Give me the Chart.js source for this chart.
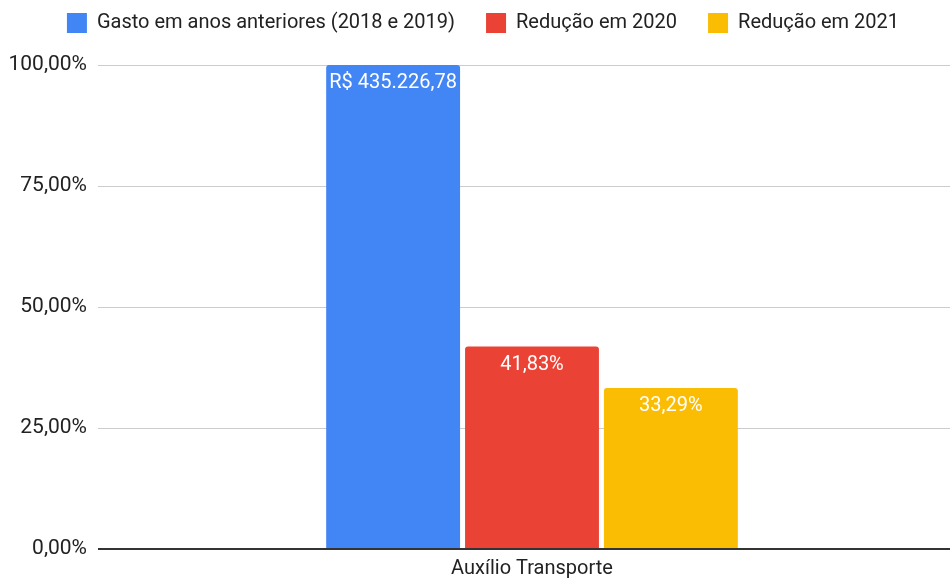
<!DOCTYPE html>
<html>
<head>
<meta charset="utf-8">
<script src="https://cdn.jsdelivr.net/npm/chart.js@4/dist/chart.umd.min.js"></script>
<style>
  body { margin: 0; background: #fff; overflow: hidden; }
  #frame { width: 950px; height: 579px; overflow: hidden; }
  #wrap { width: 966px; height: 579px; }
</style>
</head>
<body>
<div id="frame"><div id="wrap"><canvas id="chart"></canvas></div></div>
<script>
const categories = ['Auxílio Transporte'];
const seriesNames = ['Gasto em anos anteriores (2018 e 2019)', 'Redução em 2020', 'Redução em 2021'];
const seriesValues = [[100], [41.83], [33.29]];
const seriesLabels = [['R$ 435.226,78'], ['41,83%'], ['33,29%']];
const seriesColors = ['#4285f4', '#ea4335', '#fbbc04'];
const yTicks = [0, 25, 50, 75, 100];

const fmtPct = v => v.toFixed(2).replace('.', ',') + '%';

// white value labels just inside the top of each bar
const barLabels = {
    id: 'barLabels',
    afterDatasetsDraw(chart) {
        const ctx = chart.ctx;
        ctx.save();
        ctx.fillStyle = '#ffffff';
        ctx.font = '20px Roboto';
        ctx.textAlign = 'center';
        ctx.textBaseline = 'middle';
        chart.data.datasets.forEach((ds, i) => {
            chart.getDatasetMeta(i).data.forEach((bar, j) => {
                ctx.fillText(seriesLabels[i][j], bar.x, bar.y + 18);
            });
        });
        ctx.restore();
    }
};

// fixed legend block height so the plot starts where the reference does
const legendHeight = {
    id: 'legendHeight',
    beforeInit(chart) {
        const fit = chart.legend.fit;
        chart.legend.fit = function () {
            fit.bind(chart.legend)();
            this.height = 83;
        };
    }
};

const datasets = seriesNames.map((name, i) => ({
    label: name,
    data: seriesValues[i],
    backgroundColor: seriesColors[i],
    borderRadius: 3,
    borderSkipped: 'bottom',
    barPercentage: 0.964,
    categoryPercentage: 0.48
}));

const chart_config = {
    type: 'bar',
    data: { labels: categories, datasets: datasets },
    plugins: [barLabels, legendHeight],
    options: {
        responsive: true,
        maintainAspectRatio: false,
        animation: false,
        layout: { padding: { top: -18, right: 0, bottom: 0, left: 0 } },
        plugins: {
            tooltip: { enabled: false },
            legend: {
                position: 'top',
                labels: {
                    boxWidth: 20,
                    boxHeight: 20,
                    padding: 31,
                    color: '#222',
                    font: { family: 'Roboto', size: 20 }
                }
            }
        },
        scales: {
            x: {
                grid: { display: false, drawTicks: false },
                border: { display: false },
                afterFit(scale) { scale.height = 30; },
                ticks: { color: '#222', font: { family: 'Roboto', size: 20 }, padding: 8 }
            },
            y: {
                min: 0,
                max: 100,
                afterBuildTicks(scale) {
                    scale.ticks = yTicks.map(v => ({ value: v }));
                },
                afterFit(scale) { scale.width = 98; },
                border: { display: false },
                grid: {
                    drawTicks: false,
                    color: c => c.tick.value === 0 ? '#333333' : '#cccccc',
                    lineWidth: c => c.tick.value === 0 ? 2 : 1
                },
                ticks: {
                    color: '#222',
                    padding: 11,
                    font: { family: 'Roboto', size: 21 },
                    callback: v => fmtPct(v)
                }
            }
        }
    }
};

new Chart(document.getElementById('chart'), chart_config);
</script>
</body>
</html>
